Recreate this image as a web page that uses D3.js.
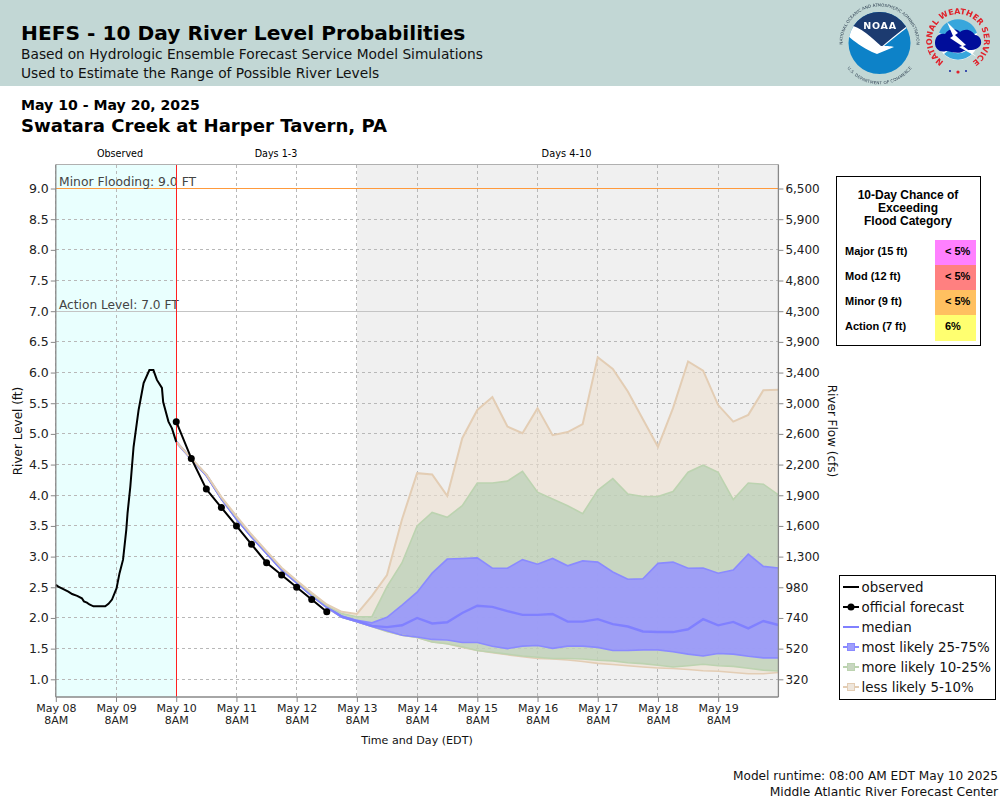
<!DOCTYPE html>
<html><head><meta charset="utf-8">
<script src="https://cdn.jsdelivr.net/npm/d3@7"></script>
<style>html,body{margin:0;padding:0;background:#fff}svg{display:block}text{font-family:"DejaVu Sans";}</style>
</head><body><svg id="c" width="1000" height="800"></svg>
<script>
const titleMain="HEFS - 10 Day River Level Probabilities";
const subLines=["Based on Hydrologic Ensemble Forecast Service Model Simulations","Used to Estimate the Range of Possible River Levels"];
const dateRange="May 10 - May 20, 2025";
const station="Swatara Creek at Harper Tavern, PA";
const levelTicks=[1,1.5,2,2.5,3,3.5,4,4.5,5,5.5,6,6.5,7,7.5,8,8.5,9];
const flowLabels=["320","520","740","980","1,300","1,600","1,900","2,200","2,600","3,000","3,400","3,900","4,300","4,800","5,400","5,900","6,500"];
const dayLabels=["May 08","May 09","May 10","May 11","May 12","May 13","May 14","May 15","May 16","May 17","May 18","May 19"];
const obsHours=[0,1,3,5,6.5,8.5,10.4,11.2,12.4,13.4,15,19.7,21,22.4,24.2,25.4,26.8,28.1,28.6,29.7,31,33,35,37.3,38.9,40.3,42.3,42.8,44.9,46.3,48];
const obsLevels=[2.54,2.51,2.47,2.43,2.39,2.36,2.32,2.27,2.25,2.22,2.19,2.19,2.23,2.30,2.48,2.73,2.95,3.44,3.71,4.14,4.79,5.39,5.83,6.04,6.04,5.88,5.75,5.52,5.20,5.09,4.87];
const officialForecast=[5.2,4.6,4.1,3.8,3.5,3.2,2.9,2.7,2.5,2.3,2.1];
const tanUpper=[4.87,4.60,4.34,3.97,3.66,3.36,3.09,2.82,2.61,2.41,2.22,2.10,2.065,2.36,2.70,3.61,4.36,4.34,3.99,4.93,5.39,5.60,5.12,5.01,5.42,4.98,5.03,5.16,6.25,6.06,5.69,5.24,4.79,5.42,6.18,6.03,5.47,5.20,5.31,5.71,5.72];
const greenUpper=[4.87,4.60,4.34,3.96,3.64,3.35,3.08,2.81,2.60,2.39,2.20,2.07,2.02,2.02,2.51,2.90,3.50,3.72,3.64,3.83,4.20,4.20,4.23,4.39,4.05,3.94,3.83,3.70,4.08,4.27,4.02,3.98,3.98,4.06,4.375,4.49,4.375,3.93,4.20,4.18,4.005];
const blueUpper=[4.87,4.59,4.33,3.95,3.63,3.34,3.07,2.80,2.59,2.38,2.19,2.03,1.96,1.92,2.01,2.21,2.42,2.73,2.96,2.97,2.98,2.81,2.81,2.95,2.875,2.97,2.85,2.93,2.91,2.75,2.63,2.64,2.89,2.91,2.81,2.815,2.73,2.78,3.04,2.84,2.815];
const medianLine=[4.87,4.59,4.33,3.95,3.62,3.33,3.06,2.79,2.58,2.375,2.185,2.02,1.95,1.87,1.85,1.88,2.00,1.91,1.93,2.08,2.20,2.18,2.11,2.05,2.05,2.065,1.94,1.94,1.98,1.90,1.86,1.78,1.77,1.77,1.815,1.98,1.88,1.935,1.83,1.95,1.885];
const blueLower=[4.87,4.59,4.32,3.94,3.61,3.32,3.05,2.78,2.57,2.36,2.17,2.01,1.94,1.86,1.79,1.72,1.69,1.65,1.64,1.60,1.60,1.54,1.50,1.54,1.55,1.505,1.54,1.54,1.52,1.47,1.47,1.48,1.48,1.45,1.41,1.38,1.42,1.41,1.375,1.35,1.35];
const greenLower=[4.87,4.59,4.32,3.94,3.61,3.32,3.05,2.78,2.57,2.36,2.17,2.01,1.94,1.86,1.78,1.72,1.68,1.61,1.58,1.53,1.47,1.44,1.41,1.38,1.36,1.34,1.34,1.33,1.31,1.30,1.27,1.255,1.23,1.20,1.22,1.245,1.22,1.21,1.18,1.15,1.135];
const tanLower=[4.87,4.59,4.32,3.94,3.61,3.32,3.05,2.78,2.57,2.36,2.17,2.01,1.94,1.86,1.78,1.72,1.68,1.61,1.58,1.52,1.47,1.435,1.40,1.37,1.34,1.33,1.315,1.29,1.26,1.24,1.22,1.20,1.185,1.175,1.16,1.14,1.13,1.11,1.09,1.09,1.11];
const chanceRows=["Major (15 ft)","Mod (12 ft)","Minor (9 ft)","Action (7 ft)"];
const chanceVals=["< 5%","< 5%","< 5%","6%"];
const chanceColors=["#ff80ff","#ff8080","#ffc060","#ffff70"];
const legendNames=["observed","official forecast","median","most likely 25-75%","more likely 10-25%","less likely 5-10%"];

const svg=d3.select("#c");
const L=55.8,R=778.4,T=164.5,B=697;
const t0=Date.UTC(2025,4,8,12);
const H=3600e3;
const at=h=>new Date(t0+h*H);
const x=d3.scaleUtc().domain([at(0),at(288)]).range([L,R]);
const y=d3.scaleLinear().domain([1,9]).range([679.3,188.5]);
const fH=48; // first forecast hour

// header
svg.append("rect").attr("width",1000).attr("height",86).attr("fill","#c2d7d5");
const tx=(s,xp,yp,size,opt={})=>svg.append("text").attr("x",xp).attr("y",yp).attr("font-size",size).attr("fill",opt.fill||"#000")
  .attr("font-weight",opt.bold?"bold":null).attr("text-anchor",opt.anchor||"start").style("font-family",opt.font||null).text(s);
tx(titleMain,21,40,20.2,{bold:1});
tx(subLines[0],21,59,13.77,{fill:"#111"});
tx(subLines[1],21,78,13.77,{fill:"#111"});
tx(dateRange,21,110,14.1,{bold:1});
tx(station,21,132,18.1,{bold:1});

// logos
const defs=svg.append("defs");
defs.append("filter").attr("id","soft").append("feGaussianBlur").attr("stdDeviation",0.35);
defs.append("clipPath").attr("id","noaaClip").append("circle").attr("cx",879.5).attr("cy",43).attr("r",31);
defs.append("path").attr("id","noaaTop").attr("d","M 845.5 58 A 37 37 0 1 1 913.5 58");
defs.append("path").attr("id","noaaBot").attr("d","M 847 62 A 37 37 0 0 0 912 62");
defs.append("path").attr("id","nwsTop").attr("d","M 943.5 61.6 A 26 26 0 1 1 972.5 61.6");
const noaa=svg.append("g").attr("filter","url(#soft)");
noaa.append("circle").attr("cx",879.5).attr("cy",43).attr("r",31).attr("fill","#0a82c8");
const nc=noaa.append("g").attr("clip-path","url(#noaaClip)");
nc.append("path").attr("fill","#1b3a70").attr("d","M 845 10 L 915 10 L 915 22 C 905 28 893 38 882 47 C 872 40 862 28 845 25 Z");
nc.append("path").attr("fill","#fff").attr("d","M 846 24 C 860 26 872 38 881 46 C 888 46 892 46 894 47 L 877 54 L 872 52 C 862 47 852 40 846 34 Z");
nc.append("path").attr("fill","none").attr("stroke","#fff").attr("stroke-width",1.2).attr("d","M 882 47 C 893 38 905 28 914 22");
noaa.append("text").attr("x",880).attr("y",29).attr("text-anchor","middle").attr("font-size",9.5).attr("font-weight","bold").attr("fill","#fff").attr("letter-spacing",0.8).text("NOAA");
noaa.append("text").attr("font-size",4.1).attr("fill","#345").append("textPath").attr("href","#noaaTop").attr("startOffset","50%").attr("text-anchor","middle").text("NATIONAL OCEANIC AND ATMOSPHERIC ADMINISTRATION");
noaa.append("text").attr("font-size",4.1).attr("fill","#345").attr("dy",3).append("textPath").attr("href","#noaaBot").attr("startOffset","50%").attr("text-anchor","middle").text("U.S. DEPARTMENT OF COMMERCE");
const nws=svg.append("g").attr("filter","url(#soft)");
nws.append("circle").attr("cx",958).attr("cy",40).attr("r",20).attr("fill","#fff");
nws.append("path").attr("fill","#38a6dc").attr("d","M 939 33 A 20 20 0 0 1 977 33 L 958 40 Z");
nws.append("path").attr("fill","#38a6dc").attr("d","M 944 54 A 20 20 0 0 0 972 54 L 967 50 A 14 14 0 0 1 949 50 Z");
nws.append("path").attr("fill","#00109a").attr("d","M 935 43 C 935 36 940 33 945 34 C 949 27 958 29 960 32 C 966 27 973 31 975 35 C 980 35 983 42 980 46 C 975 52 968 49 964 51 C 958 55 950 51 946 51 C 940 53 935 49 935 43 Z");
nws.append("path").attr("fill","#fff").attr("d","M 947 22 L 958 33 L 955 35 L 966 45 L 963 46 L 977 57 L 959 47 L 962 46 L 950 38 L 953 36 Z");
nws.append("text").attr("font-size",8).attr("font-weight","bold").attr("fill","#e0202a").append("textPath").attr("href","#nwsTop").attr("startOffset","50%").attr("text-anchor","middle").text("NATIONAL WEATHER SERVICE");
nws.selectAll("circle.d").data([950,966]).enter().append("circle").attr("class","d").attr("cx",d=>d).attr("cy",71).attr("r",1).attr("fill","#1020a0");
nws.append("circle").attr("cx",958).attr("cy",72).attr("r",1.6).attr("fill","#e0202a");

// period backgrounds
svg.append("rect").attr("x",x(at(0))).attr("y",T).attr("width",x(at(fH))-x(at(0))).attr("height",B-T).attr("fill","#e9fffe");
svg.append("rect").attr("x",x(at(120))).attr("y",T).attr("width",R-x(at(120))).attr("height",B-T).attr("fill","#f0f0f0");
// grid
const dayTicks=dayLabels.map((d,i)=>at(i*24));
svg.append("g").attr("shape-rendering","crispEdges").selectAll("line").data(dayTicks).enter().append("line").attr("x1",d=>x(d)).attr("x2",d=>x(d)).attr("y1",T).attr("y2",B)
 .attr("stroke","#b8b8b8").attr("stroke-dasharray","3,3");
svg.append("g").attr("shape-rendering","crispEdges").selectAll("line").data(levelTicks.filter(d=>d!==9&&d!==7)).enter().append("line").attr("x1",L).attr("x2",R).attr("y1",d=>y(d)).attr("y2",d=>y(d))
 .attr("stroke","#b8b8b8").attr("stroke-dasharray","3,3");
svg.append("line").attr("x1",L).attr("x2",R).attr("y1",y(7)).attr("y2",y(7)).attr("stroke","#c4c4c4").attr("shape-rendering","crispEdges");
svg.append("line").attr("x1",L).attr("x2",R).attr("y1",y(9)).attr("y2",y(9)).attr("stroke","#ff9a3c").attr("stroke-width",1.2);
tx("Minor Flooding: 9.0 FT",59,186,12.35,{fill:"#444"});
tx("Action Level: 7.0 FT",59,309,12.2,{fill:"#444"});

// bands: fills first, then outlines so the tan edge lies over the others where they meet
const fx=(d,i)=>x(at(fH+i*6));
const fill=(up,lo,c,op)=>{
  const a=d3.area().x((d,i)=>fx(d,i)).y0((d,i)=>y(lo[i])).y1(d=>y(d));
  svg.append("path").attr("d",a(up)).attr("fill",c).attr("fill-opacity",op);
};
fill(tanUpper,tanLower,"rgb(237,223,207)",0.6);
fill(greenUpper,greenLower,"rgb(175,203,175)",0.6);
fill(blueUpper,blueLower,"rgb(150,148,255)",0.85);
const ln=d3.line().x((d,i)=>fx(d,i)).y(d=>y(d));
const edge=(s,c,w)=>svg.append("path").attr("d",ln(s)).attr("fill","none").attr("stroke",c).attr("stroke-width",w);
const tanEdge="#e3cdb4",greenEdge="#bcd3b0",blueEdge="#8a8aff";
edge(tanLower,tanEdge,1.6);
edge(greenLower,greenEdge,1.6);
edge(blueLower,blueEdge,1.6);
edge(blueUpper,blueEdge,1.6);
edge(medianLine,"#8080ff",2.4);
edge(greenUpper,greenEdge,1.6);
edge(tanUpper,tanEdge,2);

// red now-line
svg.append("line").attr("x1",x(at(fH))).attr("x2",x(at(fH))).attr("y1",T).attr("y2",B).attr("stroke","#ff2020").attr("stroke-width",1).attr("shape-rendering","crispEdges");

// observed + forecast
const obs=d3.line().x((d,i)=>x(at(obsHours[i]))).y(d=>y(d));
svg.append("path").attr("d",obs(obsLevels)).attr("fill","none").attr("stroke","#000").attr("stroke-width",2);
svg.append("path").attr("d",ln(officialForecast)).attr("fill","none").attr("stroke","#000").attr("stroke-width",2);
svg.append("g").selectAll("circle").data(officialForecast).enter().append("circle").attr("cx",fx).attr("cy",d=>y(d)).attr("r",3.5).attr("fill","#000");

// plot frame + axes
svg.append("line").attr("x1",L).attr("x2",R).attr("y1",T).attr("y2",T).attr("stroke","#b0b0b0").attr("stroke-width",1);
const gy=svg.append("g").attr("transform",`translate(${L},0)`).call(d3.axisLeft(y).tickValues(levelTicks).tickFormat(d3.format(".1f")).tickSize(5).tickPadding(2));
const gr=svg.append("g").attr("transform",`translate(${R},0)`).call(d3.axisRight(y).tickValues(levelTicks).tickFormat(d=>flowLabels[levelTicks.indexOf(d)]).tickSize(5).tickPadding(2));
const gx=svg.append("g").attr("transform",`translate(0,${B})`).call(d3.axisBottom(x).tickValues(dayTicks).tickFormat((d,i)=>dayLabels[i]).tickSize(5).tickPadding(2));
[gy,gr,gx].forEach(g=>{
  g.select(".domain").attr("stroke","#888").attr("stroke-width",1.3);
  g.selectAll(".tick line").attr("stroke","#888");
});
[gy,gr].forEach(g=>g.selectAll(".domain").attr("d",`M0,${T}V${B}`));
gx.select(".domain").attr("d",`M${L},0H${R}`);
gy.selectAll("text").attr("font-size",12.5).attr("fill","#222").style("font-family","DejaVu Sans");
gr.selectAll("text").attr("font-size",12).attr("fill","#222").style("font-family","DejaVu Sans");
gx.selectAll("text").attr("font-size",11).attr("fill","#222").style("font-family","DejaVu Sans").each(function(){
  const s=d3.select(this),v=s.text(); s.text(null);
  s.append("tspan").attr("x",0).attr("dy","0.71em").text(v);
  s.append("tspan").attr("x",0).attr("dy","1.1em").text("8AM");
}).attr("dy",null).attr("y",7);

// titles
tx("Observed",120,157,9.6,{anchor:"middle"});
tx("Days 1-3",276,157,9.6,{anchor:"middle"});
tx("Days 4-10",566.5,157,9.8,{anchor:"middle"});
svg.append("text").attr("transform","translate(22,431) rotate(-90)").attr("text-anchor","middle").attr("font-size",12).attr("fill","#111").text("River Level (ft)");
svg.append("text").attr("transform","translate(828,431) rotate(90)").attr("text-anchor","middle").attr("font-size",12).attr("fill","#111").text("River Flow (cfs)");
tx("Time and Day (EDT)",417,744,11.1,{anchor:"middle",fill:"#111"});
tx("Model runtime: 08:00 AM EDT May 10 2025",998,780,12.15,{anchor:"end",fill:"#111"});
tx("Middle Atlantic River Forecast Center",998,796,12.3,{anchor:"end",fill:"#111"});

// chance box
const LS="Liberation Sans";
svg.append("rect").attr("x",836.5).attr("y",176.5).attr("width",144).attr("height",169).attr("fill","#fff").attr("stroke","#000");
["10-Day Chance of","Exceeding","Flood Category"].forEach((s,i)=>tx(s,908,199+i*13,12,{bold:1,anchor:"middle",font:LS}));
const cellTop=[240,265,290,315],cellH=[25,25,25,26];
chanceRows.forEach((r,i)=>{
  svg.append("rect").attr("x",935).attr("y",cellTop[i]).attr("width",41).attr("height",cellH[i]).attr("fill",chanceColors[i]);
  tx(r,845,255+i*25,11,{bold:1,font:LS});
  tx(chanceVals[i],945,255+i*25,11,{bold:1,font:LS});
});

// legend
svg.append("rect").attr("x",839.5).attr("y",575.5).attr("width",156).attr("height",124).attr("fill","#fff").attr("stroke","#000");
const legStroke=["#000","#000","#8080ff","#8a8aff","#bcd3b0","#e3cdb4"];
const legFill=[null,null,null,"#9f9ffb","#c8d6c1","#eee6dc"];
legendNames.forEach((n,i)=>{
  const cy=587+i*20;
  svg.append("line").attr("x1",843).attr("x2",859).attr("y1",cy).attr("y2",cy).attr("stroke",legStroke[i]).attr("stroke-width",2);
  if(i===1) svg.append("circle").attr("cx",851).attr("cy",cy).attr("r",3.5).attr("fill","#000");
  if(legFill[i]) svg.append("rect").attr("x",847.5).attr("y",cy-3.5).attr("width",7).attr("height",7).attr("fill",legFill[i]).attr("stroke",legStroke[i]);
  tx(n,861.5,cy+5,13.4,{fill:"#111"});
});
</script></body></html>
